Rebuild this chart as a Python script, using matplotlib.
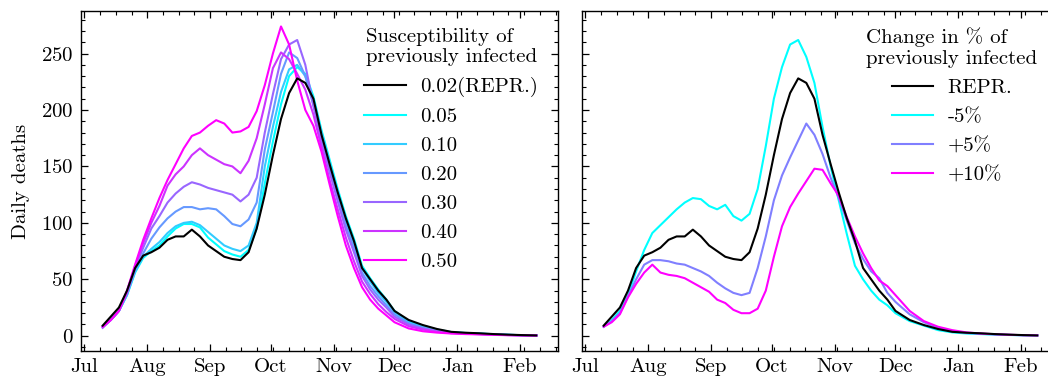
import pandas as pd
import matplotlib
matplotlib.use("Agg")
import matplotlib.pyplot as plt
import matplotlib.dates as mdates
from matplotlib.ticker import AutoMinorLocator, MultipleLocator

plt.rcParams['font.family'] = 'serif'
plt.rcParams['font.serif'] = ['cmr10']
plt.rcParams['mathtext.fontset'] = 'cm'
plt.rcParams['axes.unicode_minus'] = False
plt.rcParams['axes.formatter.use_mathtext'] = True
plt.rcParams['font.size'] = 15

#== sampling dates ==#
dates = pd.to_datetime([
    "2020-07-10", "2020-07-14", "2020-07-18", "2020-07-22", "2020-07-26", "2020-07-30",
    "2020-08-03", "2020-08-07", "2020-08-11", "2020-08-15", "2020-08-19", "2020-08-23",
    "2020-08-27", "2020-08-31", "2020-09-04", "2020-09-08", "2020-09-12", "2020-09-16",
    "2020-09-20", "2020-09-24", "2020-09-28", "2020-10-02", "2020-10-06", "2020-10-10",
    "2020-10-14", "2020-10-18", "2020-10-22", "2020-10-26", "2020-10-30", "2020-11-03",
    "2020-11-07", "2020-11-11", "2020-11-15", "2020-11-19", "2020-11-23", "2020-11-27",
    "2020-12-01", "2020-12-08", "2020-12-15", "2020-12-22", "2020-12-29", "2021-01-05",
    "2021-01-12", "2021-01-19", "2021-01-26", "2021-02-02", "2021-02-09"])

#== REPR. run (same in both panels) ==#
repr_deaths = [9, 17, 25, 40, 60, 71, 74, 78, 85, 88, 88, 94, 88, 80, 75, 70, 68, 67,
               74, 95, 125, 160, 192, 215, 228, 224, 210, 178, 152, 127, 104, 84, 60,
               50, 40, 32, 22, 14, 9.5, 6, 3.5, 2.7, 2.2, 1.5, 1, 0.6, 0.3]

#== left panel: susceptibility of previously infected ==#
susc_labels = ["0.05", "0.10", "0.20", "0.30", "0.40", "0.50"]
susc_005 = [8, 14, 22, 36, 56, 69, 75, 80, 88, 95, 99, 99, 96, 87, 81, 75, 72, 70,
            76, 95, 135, 172, 205, 230, 238, 232, 212, 182, 156, 130, 106, 86, 62,
            51, 41, 32, 22, 13, 9, 5.5, 3.3, 2.5, 2, 1.4, 0.9, 0.5, 0.3]
susc_010 = [8, 14, 22, 36, 57, 70, 77, 83, 91, 97, 100, 101, 98, 92, 86, 80, 77, 75,
            80, 100, 150, 185, 216, 236, 240, 230, 208, 180, 153, 127, 102, 82, 60,
            48, 38, 30, 21, 12, 8, 5, 3, 2.3, 1.8, 1.3, 0.8, 0.5, 0.3]
susc_020 = [8, 14, 22, 37, 58, 73, 86, 96, 104, 110, 114, 114, 112, 113, 112, 106, 99, 97,
            103, 118, 165, 198, 232, 251, 246, 230, 204, 175, 149, 123, 98, 78, 56,
            44, 35, 27, 19, 11, 7, 4.5, 2.8, 2.1, 1.7, 1.2, 0.8, 0.5, 0.3]
susc_030 = [7, 14, 22, 38, 60, 78, 95, 106, 118, 126, 132, 136, 134, 131, 129, 127, 125, 119,
            125, 140, 180, 214, 245, 258, 262, 240, 204, 172, 145, 119, 94, 74, 53,
            41, 32, 25, 17, 10, 6.5, 4, 2.6, 2, 1.5, 1.1, 0.7, 0.4, 0.3]
susc_040 = [8, 14, 22, 39, 62, 82, 100, 115, 133, 143, 150, 160, 166, 160, 156, 152, 150, 144,
            155, 175, 205, 237, 251, 245, 232, 218, 196, 167, 138, 112, 87, 66, 48,
            37, 28, 21, 15, 8.5, 5.5, 3.5, 2.3, 1.8, 1.4, 1, 0.6, 0.4, 0.2]
susc_050 = [8, 14, 22, 40, 63, 85, 104, 122, 138, 152, 166, 177, 180, 186, 191, 188, 180, 181,
            185, 199, 222, 250, 274, 258, 226, 200, 186, 163, 134, 106, 80, 60, 43,
            32, 24, 18, 12, 6.5, 4, 2.8, 2, 1.5, 1.2, 0.8, 0.5, 0.3, 0.2]

#== right panel: change in % of previously infected ==#
chg_labels = ["-5%", "+5%", "+10%"]
chg_m5 = [8, 14, 22, 36, 57, 76, 91, 98, 105, 112, 118, 122, 121, 115, 112, 116, 106, 102,
          108, 130, 168, 210, 238, 258, 262, 247, 224, 185, 150, 120, 90, 62, 50,
          40, 32, 27, 20, 13, 9, 5, 3, 2, 1.5, 1, 0.7, 0.4, 0.3]
chg_p5 = [8, 13, 20, 35, 50, 63, 67, 67, 66, 64, 63, 60, 57, 53, 47, 42, 38, 36,
          38, 60, 88, 120, 142, 158, 173, 188, 178, 161, 140, 122, 102, 82, 68,
          57, 51, 38, 30, 19, 12, 7, 4, 2.5, 1.8, 1.2, 0.8, 0.5, 0.3]
chg_p10 = [8, 12, 19, 34, 46, 56, 63, 56, 54, 53, 51, 47, 43, 39, 32, 29, 23, 20,
           20, 24, 40, 70, 97, 114, 126, 137, 148, 147, 135, 124, 105, 88, 73,
           60, 49, 44, 36, 22, 13, 8, 5, 3, 2, 1.4, 0.9, 0.5, 0.3]

cmap = plt.cm.cool
susc_colors = [cmap(i / 5) for i in range(6)]
chg_colors = [cmap(0.0), cmap(0.5), cmap(1.0)]

fig = plt.figure(figsize=(10.48, 3.77), dpi=100)
ax1 = fig.add_axes([81 / 1048, 26 / 377, 477 / 1048, 340 / 377])
ax2 = fig.add_axes([582 / 1048, 26 / 377, 477 / 1048, 340 / 377], sharex=ax1, sharey=ax1)

lw = 1.5
ax1.plot(dates, repr_deaths, color='black', lw=lw, label='0.02(REPR.)', zorder=3)
for lab, ys, col in zip(susc_labels, [susc_005, susc_010, susc_020, susc_030, susc_040, susc_050], susc_colors):
    ax1.plot(dates, ys, color=col, lw=lw, label=lab)

ax2.plot(dates, repr_deaths, color='black', lw=lw, label='REPR.', zorder=3)
for lab, ys, col in zip(chg_labels, [chg_m5, chg_p5, chg_p10], chg_colors):
    ax2.plot(dates, ys, color=col, lw=lw, label=lab)

ax1.set_ylabel("Daily deaths", labelpad=8)
ax1.yaxis.set_major_locator(MultipleLocator(50))
ax1.yaxis.set_minor_locator(AutoMinorLocator(5))

for ax in (ax1, ax2):
    ax.xaxis.set_major_locator(mdates.MonthLocator())
    ax.xaxis.set_major_formatter(mdates.DateFormatter('%b'))
    ax.xaxis.set_minor_locator(AutoMinorLocator(4))
    ax.tick_params(which='both', direction='in', top=True, right=True)
    ax.tick_params(which='major', length=5, width=0.9)
    ax.tick_params(which='minor', length=2.6, width=0.8)
    ax.tick_params(axis='y', pad=5.5)
    ax.tick_params(axis='x', pad=5)
    for s in ax.spines.values():
        s.set_linewidth(1.0)
ax2.tick_params(labelleft=False)

leg1 = ax1.legend(title="Susceptibility of\npreviously infected", frameon=False,
                  loc='upper right', bbox_to_anchor=(0.994, 1.0),
                  handlelength=2.0, handletextpad=0.7, labelspacing=0.5,
                  borderpad=0.3, fontsize=15, title_fontsize=15)
leg1.get_title().set_multialignment('left')
leg2 = ax2.legend(title="Change in % of\npreviously infected", frameon=False,
                  loc='upper right', bbox_to_anchor=(0.99, 1.0),
                  handlelength=2.0, handletextpad=0.7, labelspacing=0.5,
                  borderpad=0.3, fontsize=15, title_fontsize=15)
leg2.get_title().set_multialignment('left')

fig.savefig("out.png", dpi=100)
